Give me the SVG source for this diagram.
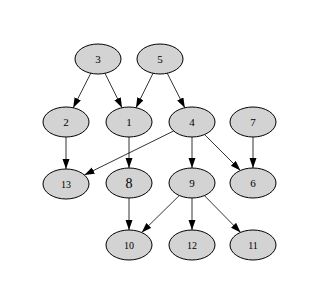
<svg xmlns="http://www.w3.org/2000/svg" width="320" height="304" viewBox="0 0 320 304">
<style>
.node ellipse{fill:#d3d3d3;stroke:#000;stroke-width:1}
.node text{font-family:"Liberation Serif","Times New Roman",serif;font-size:11px;text-anchor:middle;fill:#000}
.node text.big{font-size:14px}
.node text.small{font-size:10px}
.edges line{stroke:#000;stroke-width:0.8;fill:none}
</style>
<defs>
<marker id="arr" markerUnits="userSpaceOnUse" markerWidth="10" markerHeight="8" refX="10" refY="3.5" orient="auto">
<path d="M0,0 L10,3.5 L0,7 z" fill="#000"/>
</marker>
</defs>
<rect width="320" height="304" fill="#fff"/>
<g id="edges" class="edges" marker-end="url(#arr)">
<line x1="90.8" y1="73.2" x2="73.2" y2="107.8" marker-end="url(#arr)"/>
<line x1="105" y1="73.3" x2="122" y2="107.7" marker-end="url(#arr)"/>
<line x1="153" y1="73.3" x2="136" y2="107.7" marker-end="url(#arr)"/>
<line x1="167.2" y1="73.2" x2="184.8" y2="107.8" marker-end="url(#arr)"/>
<line x1="66" y1="137" x2="66" y2="169" marker-end="url(#arr)"/>
<line x1="129" y1="137" x2="129" y2="168" marker-end="url(#arr)"/>
<line x1="173.6" y1="131" x2="84.4" y2="175" marker-end="url(#arr)"/>
<line x1="192" y1="137" x2="192" y2="168" marker-end="url(#arr)"/>
<line x1="204.6" y1="134.6" x2="240.4" y2="170.4" marker-end="url(#arr)"/>
<line x1="253" y1="137" x2="253" y2="168" marker-end="url(#arr)"/>
<line x1="129" y1="198" x2="129" y2="230" marker-end="url(#arr)"/>
<line x1="179.3" y1="195.5" x2="141.7" y2="232.5" marker-end="url(#arr)"/>
<line x1="192" y1="198" x2="192" y2="230" marker-end="url(#arr)"/>
<line x1="204.4" y1="195.6" x2="240.6" y2="232.4" marker-end="url(#arr)"/>
</g>
<g id="n3" class="node"><ellipse cx="98" cy="59" rx="23" ry="15"/><text x="98" y="63">3</text></g>
<g id="n5" class="node"><ellipse cx="160" cy="59" rx="23" ry="15"/><text x="160" y="63">5</text></g>
<g id="n2" class="node"><ellipse cx="66" cy="122" rx="23" ry="15"/><text x="66" y="126">2</text></g>
<g id="n1" class="node"><ellipse cx="129" cy="122" rx="23" ry="15"/><text x="129" y="126">1</text></g>
<g id="n4" class="node"><ellipse cx="192" cy="122" rx="23" ry="15"/><text x="192" y="126">4</text></g>
<g id="n7" class="node"><ellipse cx="253" cy="122" rx="23" ry="15"/><text x="253" y="126">7</text></g>
<g id="n13" class="node"><ellipse cx="66" cy="184" rx="23" ry="15"/><text class="small" x="66" y="188">13</text></g>
<g id="n8" class="node"><ellipse cx="129" cy="183" rx="23" ry="15"/><text class="big" x="129" y="188">8</text></g>
<g id="n9" class="node"><ellipse cx="192" cy="183" rx="23" ry="15"/><text x="192" y="187">9</text></g>
<g id="n6" class="node"><ellipse cx="253" cy="183" rx="23" ry="15"/><text x="253" y="187">6</text></g>
<g id="n10" class="node"><ellipse cx="129" cy="245" rx="23" ry="15"/><text class="small" x="129" y="249">10</text></g>
<g id="n12" class="node"><ellipse cx="192" cy="245" rx="23" ry="15"/><text class="small" x="192" y="249">12</text></g>
<g id="n11" class="node"><ellipse cx="253" cy="245" rx="23" ry="15"/><text class="small" x="253" y="249">11</text></g>
</svg>
